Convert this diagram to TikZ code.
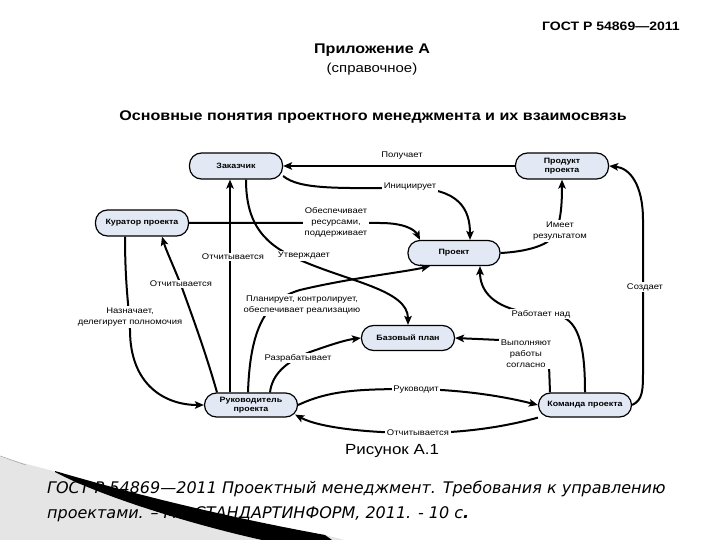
\documentclass[tikz,border=0pt]{standalone}
\usepackage{fontspec}
\setmainfont[FakeStretch=1.15]{Liberation Sans}
\newfontfamily\citefont{DejaVu Sans}
\usetikzlibrary{arrows.meta}
\definecolor{nodefill}{HTML}{E3E9F4}
\begin{document}
\begin{tikzpicture}[x=1pt,y=-1pt,
  box/.style={draw, line width=1.2pt, fill=nodefill, rounded corners=12pt,
    minimum width=93pt, minimum height=26pt, inner sep=1pt, align=center,
    font=\fontsize{7.7}{9.3}\selectfont\bfseries},
  arr/.style={line width=2pt, -{Stealth[length=9pt,width=7.5pt,inset=2pt]}},
  lbl/.style={fill=white, inner sep=1.5pt, align=center,
    font=\fontsize{8.2}{11}\selectfont},
  title/.style={inner sep=0pt}]
\useasboundingbox (0,0) rectangle (720,540);

% background decoration (dotted area)
\fill[black!10] (0,457) -- (57,472) .. controls (110,487) and (200,512) .. (325,535)
  -- (345,540) -- (0,540) -- cycle;
\draw[black!35, line width=0.6pt] (0,456) -- (26,465);

% titles
\node[title, anchor=base east, font=\fontsize{12.2}{14}\selectfont\bfseries] (gost) at (680,31) {ГОСТ Р 54869—2011};
\node[title, font=\fontsize{14}{16}\selectfont\bfseries] (pril) at (372,50) {Приложение А};
\node[title, font=\fontsize{13}{15}\selectfont] (sprav) at (372,69) {(справочное)};
\node[title, font=\fontsize{14}{16}\selectfont\bfseries] (head) at (373,117) {Основные понятия проектного менеджмента и их взаимосвязь};
\node[title, font=\fontsize{14.7}{16}\selectfont] (fig) at (392,451) {Рисунок А.1};

% boxes
\node[box] (zak) at (236,166) {Заказчик};
\node[box] (prod) at (562,166) {Продукт\\проекта};
\node[box] (kur) at (142,223) {Куратор проекта};
\node[box, minimum width=92pt, minimum height=25pt] (proj) at (454,253) {Проект};
\node[box, minimum height=25pt] (bp) at (408,338) {Базовый план};
\node[box, minimum height=24pt] (rk) at (251,405) {Руководитель\\проекта};
\node[box, minimum height=24pt] (kom) at (585,405) {Команда проекта};

% connectors
\draw[arr] (prod.west) -- (zak.east);
\draw[arr] (zak.-12) .. controls (300,190) and (340,188) .. (410,188)
  .. controls (460,188) and (470,210) .. ([xshift=16pt]proj.north);
\draw[arr] (kur.east) -- (380,223) .. controls (405,223) and (415,230) .. ([xshift=-34pt]proj.north);
\draw[arr] ([xshift=10pt]zak.south) .. controls (246,225) and (265,245) .. (300,260)
  .. controls (350,282) and (408,290) .. (bp.north);
\draw[arr] ([xshift=-21pt]rk.north) -- ([xshift=-6pt]zak.south);
\draw[arr] ([xshift=-34pt]rk.north) .. controls (205,350) and (190,310) .. (181,285)
  .. controls (173,265) and (166,250) .. ([xshift=20pt]kur.south);
\draw[arr] ([xshift=-17pt]kur.south) .. controls (125,290) and (130,315) .. (130,330)
  .. controls (130,385) and (165,405) .. (rk.west);
\draw[arr] ([xshift=-3pt]rk.north) .. controls (250,330) and (265,300) .. (300,290)
  .. controls (350,278) and (405,272) .. ([xshift=-24pt]proj.south);
\draw[arr] ([xshift=19pt]rk.north) .. controls (272,375) and (285,362) .. (310,352)
  .. controls (330,345) and (345,340) .. (bp.west);
\draw[arr] (rk.east) .. controls (330,390) and (360,389) .. (416,389)
  .. controls (470,390) and (510,398) .. (kom.west);
\draw[arr] (kom.195) .. controls (500,428) and (460,433) .. (418,433)
  .. controls (370,433) and (320,428) .. ([xshift=-3pt,yshift=3pt]rk.south east);
\draw[arr] ([xshift=-35pt]kom.north) -- (549,365) .. controls (549,342) and (530,340) .. (500,340) -- (bp.east);
\draw[arr] (kom.north) .. controls (585,350) and (580,322) .. (560,316) -- (520,311)
  .. controls (492,305) and (480,290) .. ([xshift=26pt]proj.south);
\draw[arr] (kom.east) .. controls (643,400) and (643,390) .. (643,370) -- (643,220)
  .. controls (643,185) and (630,168) .. (prod.east);
\draw[arr] (proj.east) .. controls (520,252) and (540,248) .. (550,240)
  .. controls (560,230) and (562,210) .. (prod.south);

% labels
\node[font=\fontsize{8.2}{11}\selectfont, inner sep=0pt] (l1) at (402,156) {Получает};
\node[lbl] (l2) at (410,187) {Инициирует};
\node[lbl] (l3) at (336,222) {Обеспечивает\\ресурсами,\\поддерживает};
\node[lbl] (l4) at (304,256) {Утверждает};
\node[lbl] (l5) at (233,257) {Отчитывается};
\node[lbl] (l6) at (181,284) {Отчитывается};
\node[lbl] (l7) at (130,317) {Назначает,\\делегирует полномочия};
\node[lbl] (l8) at (302,305) {Планирует, контролирует,\\обеспечивает реализацию};
\node[lbl] (l9) at (298,358) {Разрабатывает};
\node[lbl] (l10) at (416,390) {Руководит};
\node[lbl] (l11) at (418,433) {Отчитывается};
\node[lbl] (l12) at (526,354) {Выполняют\\работы\\согласно};
\node[lbl] (l13) at (541,314) {Работает над};
\node[lbl] (l14) at (645,287) {Создает};
\node[lbl] (l15) at (560,231) {Имеет\\результатом};

% citation
\node[title, anchor=base west, font=\citefont\itshape\fontsize{16}{18}\selectfont] (c1) at (47,493) {ГОСТ Р 54869—2011 Проектный менеджмент. Требования к управлению};
\node[title, anchor=base west, font=\citefont\itshape\fontsize{16}{18}\selectfont] (c2) at (47,518) {проектами. – М.: СТАНДАРТИНФОРМ, 2011. - 10 с\textbf{.}};

% black swoosh over the text
\fill[black] (55,471) .. controls (110,487) and (200,512) .. (325,535) -- (332,540) -- (262,540)
  .. controls (190,524) and (100,496) .. (55,472) -- cycle;
\end{tikzpicture}
\end{document}
